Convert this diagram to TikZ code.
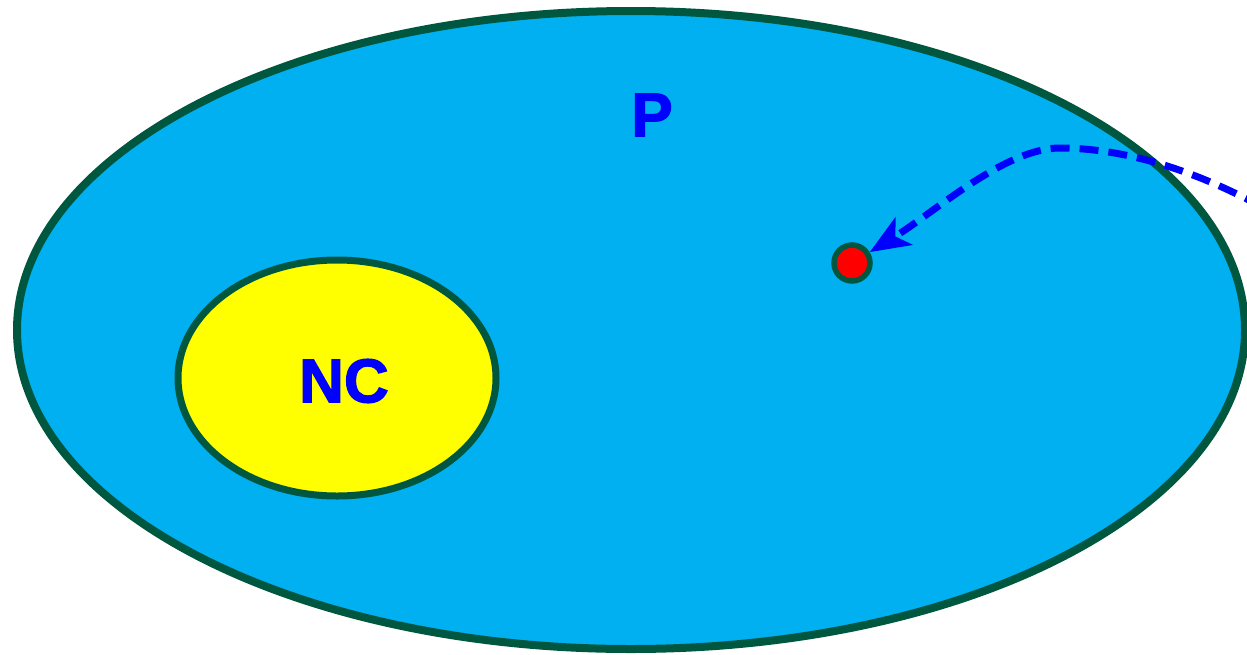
\documentclass[tikz,border=0pt]{standalone}
\usepackage{fontspec}
\setmainfont{Liberation Sans}
\newfontfamily\heavyfont{Liberation Sans}[UprightFont=*-Bold, FakeBold=2]
\usetikzlibrary{shapes.geometric,arrows.meta}
\definecolor{skyfill}{HTML}{00B0F0}
\definecolor{rimgreen}{HTML}{00573F}
\definecolor{labelblue}{HTML}{0000FF}
\definecolor{brightyellow}{HTML}{FFFF00}
\definecolor{brightred}{HTML}{FF0000}
\tikzset{
  region/.style={ellipse, draw=rimgreen, line width=8pt, inner sep=0pt, outer sep=0pt},
  lbl/.style={text=labelblue, font=\fontsize{62}{62}\heavyfont, inner sep=0pt},
  elem/.style={circle, draw=rimgreen, fill=brightred, line width=5.5pt, minimum size=36pt, inner sep=0pt},
  mapsto/.style={draw=labelblue, line width=7pt, dash pattern=on 19pt off 10pt,
    -{Stealth[length=40pt,width=32pt,inset=10pt]}}
}
\begin{document}
\begin{tikzpicture}[x=1pt,y=-1pt]
\useasboundingbox (0,0) rectangle (1247,654);
\node[region, fill=skyfill, minimum width=1228pt, minimum height=638pt] (P) at (631,330) {};
\node[region, fill=brightyellow, line width=7pt, minimum width=318pt, minimum height=236pt] (NC) at (337,378) {};
\node[lbl] (Plabel) at (652,115) {P};
\node[lbl] (NClabel) at (344,381) {NC};
\node[elem] (x) at (852,263) {};
\coordinate (src) at (1262,207);
\coordinate (top) at (1060,148);
\draw[mapsto] (src) .. controls (1185,165) and (1115,148) .. (top)
  .. controls (1005,148) and (935,212) .. (x);
\end{tikzpicture}
\end{document}
